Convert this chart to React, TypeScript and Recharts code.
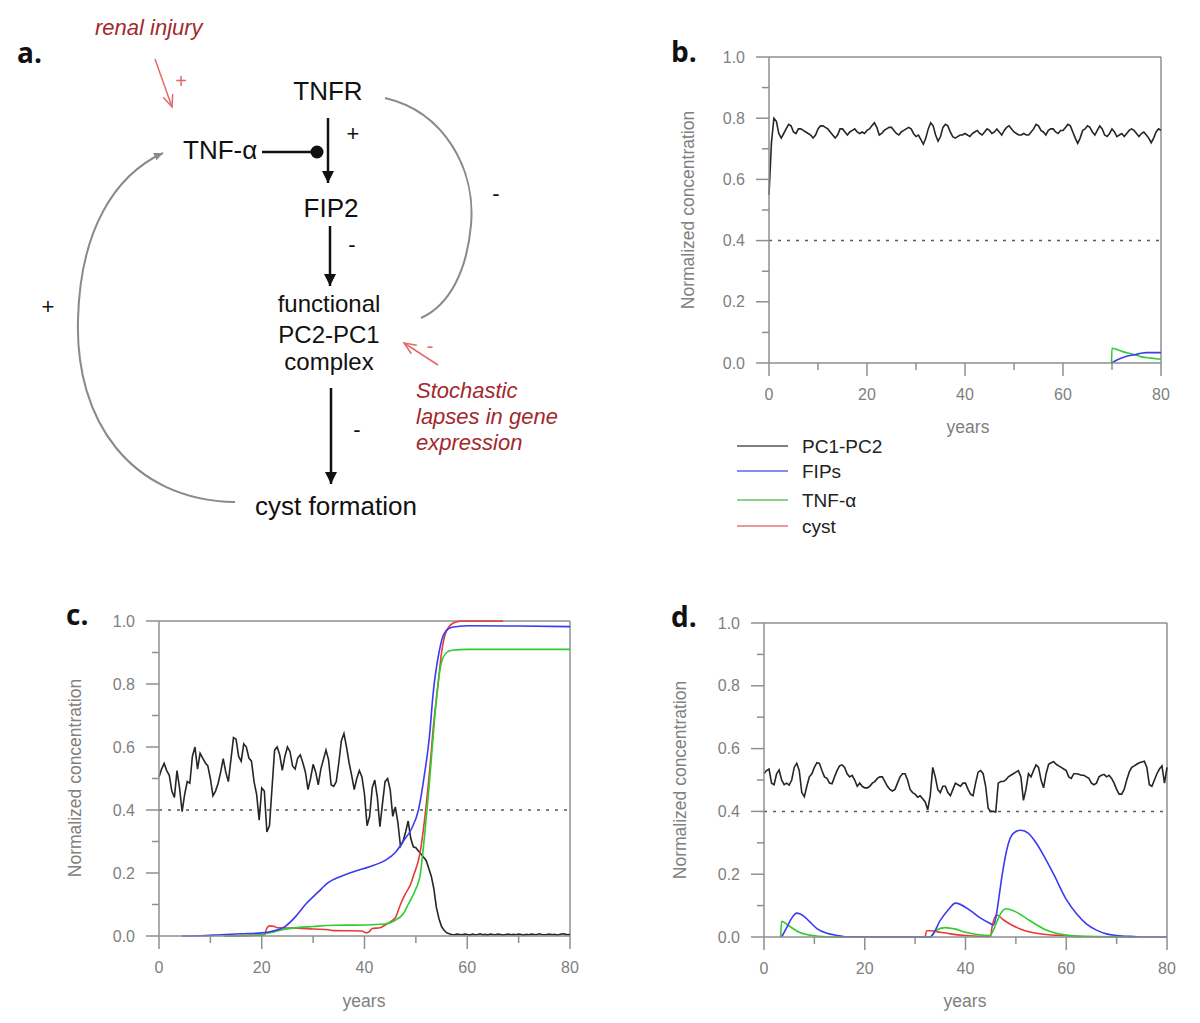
import React from 'react';
import { LineChart, Line, XAxis, YAxis, ReferenceLine } from 'recharts';

// x grid for the stochastic PC1-PC2 traces (every half year)
const halfYears = Array.from({ length: 161 }, (_, i) => i / 2);

const xTicks = [0, 10, 20, 30, 40, 50, 60, 70, 80];
const xLabels = [0, 20, 40, 60, 80];
const yTicks = [0, 0.1, 0.2, 0.3, 0.4, 0.5, 0.6, 0.7, 0.8, 0.9, 1];
const yLabels = [0, 0.2, 0.4, 0.6, 0.8, 1];
const threshold = 0.4;

const seriesNames = ['PC1-PC2', 'FIPs', 'TNF-α', 'cyst'];

// panel b
const bPc = [
  0.55, 0.72, 0.8, 0.79, 0.75, 0.735, 0.75, 0.765, 0.78, 0.775,
  0.755, 0.75, 0.765, 0.765, 0.76, 0.755, 0.75, 0.745, 0.735, 0.745,
  0.765, 0.775, 0.775, 0.77, 0.765, 0.755, 0.745, 0.735, 0.745, 0.765,
  0.765, 0.755, 0.745, 0.755, 0.76, 0.765, 0.755, 0.75, 0.755, 0.75,
  0.76, 0.765, 0.775, 0.785, 0.77, 0.745, 0.75, 0.76, 0.765, 0.77,
  0.77, 0.76, 0.75, 0.745, 0.755, 0.76, 0.765, 0.77, 0.765, 0.75,
  0.74, 0.745, 0.73, 0.715, 0.735, 0.765, 0.785, 0.775, 0.745, 0.725,
  0.74, 0.77, 0.78, 0.775, 0.755, 0.74, 0.735, 0.74, 0.745, 0.745,
  0.75, 0.745, 0.74, 0.75, 0.755, 0.76, 0.75, 0.745, 0.755, 0.765,
  0.76, 0.75, 0.755, 0.765, 0.755, 0.745, 0.76, 0.77, 0.775, 0.765,
  0.755, 0.75, 0.745, 0.745, 0.75, 0.745, 0.745, 0.755, 0.765, 0.78,
  0.775, 0.76, 0.755, 0.745, 0.76, 0.765, 0.765, 0.755, 0.75, 0.76,
  0.76, 0.77, 0.78, 0.775, 0.755, 0.735, 0.718, 0.735, 0.76, 0.765,
  0.775, 0.77, 0.755, 0.745, 0.76, 0.775, 0.765, 0.745, 0.74, 0.75,
  0.765, 0.755, 0.74, 0.745, 0.75, 0.74, 0.75, 0.76, 0.765, 0.76,
  0.75, 0.74, 0.75, 0.755, 0.745, 0.735, 0.72, 0.735, 0.755, 0.765,
  0.76,
];
const bFipYears = [69.9, 71, 73, 74.6, 76, 77, 80];
const bFipVals = [0, 0.01, 0.022, 0.027, 0.032, 0.034, 0.034];
const bTnfYears = [69.9, 70, 72, 74.6, 76, 78, 80];
const bTnfVals = [0, 0.048, 0.038, 0.027, 0.02, 0.016, 0.012];

// panel c
const cPc = [
  0.505, 0.53, 0.548, 0.525, 0.51, 0.46, 0.44, 0.525, 0.47, 0.395,
  0.45, 0.49, 0.485, 0.57, 0.6, 0.53, 0.58, 0.565, 0.55, 0.54,
  0.5, 0.445, 0.46, 0.484, 0.52, 0.563, 0.52, 0.49, 0.56, 0.63,
  0.625, 0.57, 0.555, 0.61, 0.6, 0.565, 0.555, 0.49, 0.45, 0.368,
  0.47, 0.46, 0.33, 0.35, 0.47, 0.59, 0.6, 0.575, 0.526, 0.57,
  0.6, 0.585, 0.54, 0.53, 0.565, 0.575, 0.55, 0.52, 0.465, 0.5,
  0.545, 0.52, 0.48, 0.53, 0.56, 0.59, 0.56, 0.48, 0.475, 0.49,
  0.55, 0.62, 0.643, 0.6, 0.55, 0.51, 0.465, 0.5, 0.525, 0.505,
  0.45, 0.35, 0.38, 0.47, 0.495, 0.44, 0.347, 0.42, 0.49, 0.5,
  0.465, 0.38, 0.41, 0.36, 0.285, 0.3, 0.33, 0.365, 0.31, 0.283,
  0.28, 0.27, 0.26, 0.25, 0.24, 0.215, 0.19, 0.15, 0.09, 0.055,
  0.03, 0.018, 0.01, 0.007, 0.005, 0.004, 0.006, 0.005, 0.004, 0.006,
  0.005, 0.003, 0.006, 0.004, 0.005, 0.007, 0.004, 0.005, 0.003, 0.006,
  0.005, 0.004, 0.006, 0.005, 0.003, 0.005, 0.006, 0.004, 0.005, 0.004,
  0.006, 0.005, 0.003, 0.005, 0.004, 0.006, 0.005, 0.004, 0.007, 0.005,
  0.004, 0.005, 0.006, 0.004, 0.005, 0.003, 0.005, 0.007, 0.006, 0.004,
  0.005,
];
const cFipYears = [4.5, 8, 12, 16, 20, 22, 24.5, 26.5, 28.5, 31, 33, 35.5, 38, 41, 44, 46, 47.5, 49.2, 50.5, 51.7, 52.7, 53.3, 54.5, 55.5, 57, 60, 70, 80];
const cFipVals = [0, 0.001, 0.004, 0.007, 0.01, 0.015, 0.03, 0.06, 0.1, 0.14, 0.17, 0.19, 0.205, 0.22, 0.24, 0.265, 0.3, 0.342, 0.4, 0.516, 0.643, 0.76, 0.9, 0.96, 0.98, 0.985, 0.984, 0.982];
const cTnfYears = [12.5, 18, 20, 22, 24, 26, 30, 34, 40, 44, 46, 47.5, 48.5, 50, 50.8, 51.7, 52.5, 53.2, 53.7, 54.3, 55, 56, 57, 60, 80];
const cTnfVals = [0, 0.002, 0.005, 0.012, 0.02, 0.025, 0.03, 0.034, 0.035, 0.038, 0.05, 0.07, 0.1, 0.15, 0.19, 0.32, 0.46, 0.6, 0.7, 0.8, 0.87, 0.9, 0.907, 0.91, 0.91];
const cCystYears = [13, 18, 20.5, 21, 21.5, 22.5, 23, 27, 30, 33, 34, 39.5, 40.3, 41, 41.5, 43, 44, 45, 46, 47, 48, 49, 49.5, 50.8, 51.7, 52.7, 53.5, 54.2, 55, 56, 57.5, 59, 67];
const cCystVals = [0, 0.002, 0.003, 0.025, 0.032, 0.03, 0.026, 0.025, 0.022, 0.02, 0.017, 0.016, 0.01, 0.015, 0.024, 0.026, 0.035, 0.045, 0.058, 0.1, 0.135, 0.165, 0.19, 0.262, 0.37, 0.53, 0.68, 0.78, 0.9, 0.97, 0.995, 1, 1];

// panel d
const dPc = [
  0.52, 0.53, 0.535, 0.49, 0.485, 0.52, 0.532, 0.5, 0.485, 0.49,
  0.484, 0.5, 0.54, 0.553, 0.53, 0.46, 0.447, 0.48, 0.51, 0.52,
  0.54, 0.555, 0.553, 0.53, 0.51, 0.505, 0.49, 0.488, 0.51, 0.53,
  0.545, 0.548, 0.54, 0.52, 0.51, 0.515, 0.5, 0.48, 0.49, 0.48,
  0.475, 0.475, 0.48, 0.49, 0.495, 0.505, 0.51, 0.51, 0.495, 0.48,
  0.47, 0.465, 0.47, 0.49, 0.51, 0.52, 0.52, 0.5, 0.47, 0.46,
  0.455, 0.445, 0.45, 0.44, 0.43, 0.405, 0.45, 0.54, 0.51, 0.47,
  0.46, 0.48, 0.48, 0.46, 0.45, 0.47, 0.49, 0.485, 0.48, 0.49,
  0.49, 0.47, 0.455, 0.45, 0.49, 0.525, 0.53, 0.52, 0.48, 0.41,
  0.4, 0.4, 0.398, 0.49, 0.495, 0.495, 0.5, 0.51, 0.515, 0.52,
  0.525, 0.53, 0.51, 0.435, 0.47, 0.52, 0.51, 0.53, 0.548, 0.54,
  0.5, 0.475, 0.52, 0.55, 0.555, 0.558, 0.55, 0.545, 0.54, 0.535,
  0.53, 0.51, 0.505, 0.52, 0.52, 0.518, 0.515, 0.515, 0.51, 0.505,
  0.49, 0.485, 0.49, 0.51, 0.515, 0.518, 0.51, 0.515, 0.505, 0.49,
  0.47, 0.455, 0.455, 0.47, 0.5, 0.525, 0.54, 0.545, 0.55, 0.555,
  0.557, 0.56, 0.54, 0.485, 0.48, 0.5, 0.52, 0.535, 0.545, 0.49,
  0.54,
];
const dFipYears = [3.5, 4.5, 5.5, 6.5, 8, 9, 10.5, 12.5, 14.5, 16, 33, 35, 36.5, 38, 40.9, 43, 45, 45.5, 46, 46.5, 47.2, 48.5, 49.5, 51, 52.5, 54, 55.5, 57.5, 60, 62, 64, 66, 68, 70, 74, 75, 80];
const dFipVals = [0, 0.03, 0.06, 0.076, 0.065, 0.05, 0.027, 0.012, 0.005, 0.001, 0, 0.053, 0.085, 0.108, 0.085, 0.06, 0.042, 0.038, 0.06, 0.11, 0.19, 0.297, 0.33, 0.34, 0.33, 0.3, 0.26, 0.2, 0.12, 0.075, 0.042, 0.022, 0.01, 0.005, 0.001, 0, 0];
const dTnfYears = [3.3, 3.5, 5, 7, 9, 11, 13, 33, 34, 36, 38, 40, 42, 44.8, 45.5, 46, 47, 48, 50, 52, 54, 56, 58, 60, 64, 74];
const dTnfVals = [0, 0.05, 0.035, 0.015, 0.006, 0.002, 0, 0, 0.02, 0.03, 0.025, 0.015, 0.009, 0.005, 0.02, 0.04, 0.075, 0.09, 0.08, 0.06, 0.04, 0.022, 0.012, 0.006, 0.002, 0];
const dCystYears = [32, 32.3, 33, 35, 37, 40, 45, 45.2, 46.2, 47.5, 49, 51, 53, 56, 60, 63];
const dCystVals = [0, 0.02, 0.02, 0.015, 0.01, 0.005, 0.002, 0.025, 0.07, 0.055, 0.04, 0.025, 0.015, 0.008, 0.004, 0];

const rows = (xs: number[], ys: number[]) => ys.map((y, i) => ({ x: xs[i], y }));

const PC_COLOR = '#262626';
const FIP_COLOR = '#3b3bf2';
const TNF_COLOR = '#2fcc2f';
const CYST_COLOR = '#e83a3a';
const AXIS = '#8f8f8f';
const LABEL = '#808080';
const FONT = '"Liberation Sans", Arial, sans-serif';

const XTick = (props: any) => {
  const { x, y, payload } = props;
  const major = xLabels.includes(payload.value);
  return (
    <g>
      <line x1={x} x2={x} y1={y} y2={y + (major ? 13 : 7)} stroke={AXIS} strokeWidth={1.5} />
      {major && (
        <text x={x} y={y + 31} textAnchor="middle" dominantBaseline="central" fill={LABEL} fontSize={16} fontFamily={FONT}>
          {payload.value}
        </text>
      )}
    </g>
  );
};

const YTick = (props: any) => {
  const { x, y, payload } = props;
  const major = yLabels.includes(payload.value);
  return (
    <g>
      <line x1={x - (major ? 13 : 7)} x2={x} y1={y} y2={y} stroke={AXIS} strokeWidth={1.5} />
      {major && (
        <text x={x - 24} y={y} textAnchor="end" dominantBaseline="central" fill={LABEL} fontSize={16} fontFamily={FONT}>
          {payload.value.toFixed(1)}
        </text>
      )}
    </g>
  );
};

type PanelProps = {
  width: number;
  height: number;
  margin: { top: number; right: number; bottom: number; left: number };
  yWidth: number;
  pc: { x: number; y: number }[];
  fip: { x: number; y: number }[];
  tnf: { x: number; y: number }[];
  cyst?: { x: number; y: number }[];
};

function Panel({ width, height, margin, yWidth, pc, fip, tnf, cyst }: PanelProps) {
  return (
    <LineChart width={width} height={height} margin={margin}>
      <XAxis
        type="number"
        dataKey="x"
        domain={[0, 80]}
        ticks={xTicks}
        interval={0}
        tick={XTick}
        tickLine={false}
        tickSize={0}
        tickMargin={0}
        height={50}
        axisLine={{ stroke: AXIS, strokeWidth: 1.5 }}
      />
      <YAxis
        type="number"
        domain={[0, 1]}
        ticks={yTicks}
        interval={0}
        tick={YTick}
        tickLine={false}
        tickSize={0}
        tickMargin={0}
        width={yWidth}
        axisLine={{ stroke: AXIS, strokeWidth: 1.5 }}
      />
      <ReferenceLine y={1} stroke={AXIS} strokeWidth={1.5} />
      <ReferenceLine x={80} stroke={AXIS} strokeWidth={1.5} />
      <ReferenceLine y={threshold} stroke="#5a5a5a" strokeWidth={1.5} strokeDasharray="3 6" />
      <Line data={pc} dataKey="y" name={seriesNames[0]} type="linear" stroke={PC_COLOR} strokeWidth={1.6} dot={false} isAnimationActive={false} />
      {cyst && (
        <Line data={cyst} dataKey="y" name={seriesNames[3]} type="monotone" stroke={CYST_COLOR} strokeWidth={1.6} dot={false} isAnimationActive={false} />
      )}
      <Line data={tnf} dataKey="y" name={seriesNames[2]} type="monotone" stroke={TNF_COLOR} strokeWidth={1.6} dot={false} isAnimationActive={false} />
      <Line data={fip} dataKey="y" name={seriesNames[1]} type="monotone" stroke={FIP_COLOR} strokeWidth={1.6} dot={false} isAnimationActive={false} />
    </LineChart>
  );
}

const legendColors = ['#808080', '#8a8af5', '#8fd08f', '#eb9a9a'];
const legendY = [446, 471, 500, 526];

const darkRed = '#a3282c';
const lightRed = '#e36a6a';

function Diagram() {
  const big = { fontFamily: FONT, fontSize: 26, fill: '#111' } as const;
  const mid = { fontFamily: FONT, fontSize: 24, fill: '#111' } as const;
  const sign = { fontFamily: FONT, fontSize: 22, fill: '#111' } as const;
  const note = { fontFamily: FONT, fontSize: 22, fill: darkRed, fontStyle: 'italic' } as const;
  return (
    <g>
      <defs>
        <marker id="blk" viewBox="0 0 12 12" refX="12" refY="6" markerWidth="12" markerHeight="12" markerUnits="userSpaceOnUse" orient="auto">
          <path d="M0,0 L12,6 L0,12 z" fill="#111" />
        </marker>
        <marker id="gry" viewBox="0 0 9 8" refX="9" refY="4" markerWidth="9" markerHeight="8" markerUnits="userSpaceOnUse" orient="auto">
          <path d="M0,0 L9,4 L0,8 z" fill="#8a8a8a" />
        </marker>
        <marker id="red" viewBox="-1 -1 14 12" refX="12" refY="5" markerWidth="14" markerHeight="12" markerUnits="userSpaceOnUse" orient="auto" overflow="visible">
          <path d="M0,0 L12,5 L0,10" fill="none" stroke={lightRed} strokeWidth={1.5} />
        </marker>
      </defs>
      <text x={17} y={63} fontFamily='"Open Sans", sans-serif' fontWeight={700} fontSize={28} fill="#111">a.</text>

      <text x={95} y={35} {...note}>renal injury</text>
      <line x1={155} y1={59} x2={172} y2={107} stroke={lightRed} strokeWidth={1.5} markerEnd="url(#red)" />
      <text x={181} y={88} textAnchor="middle" fontFamily={FONT} fontSize={20} fill={lightRed}>+</text>

      <text x={328} y={100} textAnchor="middle" {...big}>TNFR</text>
      <text x={183} y={159} {...big}>TNF-α</text>
      <line x1={262} y1={152} x2={312} y2={152} stroke="#111" strokeWidth={2.5} />
      <circle cx={317} cy={152} r={6.5} fill="#111" />
      <line x1={328} y1={118} x2={328} y2={183} stroke="#111" strokeWidth={2.5} markerEnd="url(#blk)" />
      <text x={353} y={141} textAnchor="middle" {...sign}>+</text>

      <text x={331} y={217} textAnchor="middle" {...big}>FIP2</text>
      <line x1={330} y1={226} x2={330} y2={286} stroke="#111" strokeWidth={2.5} markerEnd="url(#blk)" />
      <text x={352} y={252} textAnchor="middle" {...sign}>-</text>

      <text x={329} y={312} textAnchor="middle" {...mid}>functional</text>
      <text x={329} y={343} textAnchor="middle" {...mid}>PC2-PC1</text>
      <text x={329} y={370} textAnchor="middle" {...mid}>complex</text>
      <line x1={331} y1={388} x2={331} y2={484} stroke="#111" strokeWidth={2.5} markerEnd="url(#blk)" />
      <text x={357} y={437} textAnchor="middle" {...sign}>-</text>

      <text x={336} y={515} textAnchor="middle" {...big}>cyst formation</text>

      <path d="M235,502 C130,500 75,420 78,320 C80,230 115,175 163,153" fill="none" stroke="#8a8a8a" strokeWidth={2} markerEnd="url(#gry)" />
      <text x={48} y={314} textAnchor="middle" {...sign}>+</text>

      <path d="M385,98 C445,112 476,170 471,225 C467,270 450,305 421,318" fill="none" stroke="#8a8a8a" strokeWidth={2} />
      <text x={496} y={201} textAnchor="middle" {...sign}>-</text>

      <line x1={438} y1={365} x2={404} y2={343} stroke={lightRed} strokeWidth={1.5} markerEnd="url(#red)" />
      <text x={430} y={353} textAnchor="middle" fontFamily={FONT} fontSize={20} fill={lightRed}>-</text>
      <text x={416} y={398} {...note}>Stochastic</text>
      <text x={416} y={424} {...note}>lapses in gene</text>
      <text x={416} y={450} {...note}>expression</text>
    </g>
  );
}

function Overlay() {
  const letter = { fontFamily: '"Open Sans", sans-serif', fontWeight: 700, fontSize: 28, fill: '#111' } as const;
  const axisTitle = { fontFamily: FONT, fontSize: 17.5, fill: LABEL } as const;
  return (
    <svg width={1200} height={1023} style={{ position: 'absolute', left: 0, top: 0, pointerEvents: 'none' }}>
      <Diagram />
      <text x={671} y={62} {...letter}>b.</text>
      <text x={66} y={625} {...letter}>c.</text>
      <text x={671} y={627} {...letter}>d.</text>

      <text transform="translate(694,210) rotate(-90)" textAnchor="middle" {...axisTitle}>Normalized concentration</text>
      <text transform="translate(81,778) rotate(-90)" textAnchor="middle" {...axisTitle}>Normalized concentration</text>
      <text transform="translate(686,780) rotate(-90)" textAnchor="middle" {...axisTitle}>Normalized concentration</text>
      <text x={968} y={433} textAnchor="middle" {...axisTitle}>years</text>
      <text x={364} y={1007} textAnchor="middle" {...axisTitle}>years</text>
      <text x={965} y={1007} textAnchor="middle" {...axisTitle}>years</text>

      {seriesNames.map((name, i) => (
        <g key={name}>
          <line x1={737} x2={788} y1={legendY[i]} y2={legendY[i]} stroke={legendColors[i]} strokeWidth={2} />
          <text x={802} y={legendY[i]} dominantBaseline="central" fontFamily={FONT} fontSize={19} fill="#222">{name}</text>
        </g>
      ))}
    </svg>
  );
}

export default function App() {
  return (
    <div style={{ position: 'absolute', left: 0, top: 0, width: 1200, height: 1023, background: '#fff', overflow: 'hidden' }}>
      <div style={{ position: 'absolute', left: 660, top: 40, width: 510, height: 400, overflow: 'hidden' }}>
        <Panel
          width={530}
          height={400}
          margin={{ top: 17, right: 29, bottom: 27, left: 0 }}
          yWidth={109}
          pc={rows(halfYears, bPc)}
          fip={rows(bFipYears, bFipVals)}
          tnf={rows(bTnfYears, bTnfVals)}
        />
      </div>
      <div style={{ position: 'absolute', left: 60, top: 600, width: 540, height: 420 }}>
        <Panel
          width={540}
          height={420}
          margin={{ top: 21, right: 30, bottom: 34, left: 0 }}
          yWidth={99}
          pc={rows(halfYears, cPc)}
          fip={rows(cFipYears, cFipVals)}
          tnf={rows(cTnfYears, cTnfVals)}
          cyst={rows(cCystYears, cCystVals)}
        />
      </div>
      <div style={{ position: 'absolute', left: 660, top: 600, width: 540, height: 420 }}>
        <Panel
          width={540}
          height={420}
          margin={{ top: 23, right: 33, bottom: 33, left: 0 }}
          yWidth={104}
          pc={rows(halfYears, dPc)}
          fip={rows(dFipYears, dFipVals)}
          tnf={rows(dTnfYears, dTnfVals)}
          cyst={rows(dCystYears, dCystVals)}
        />
      </div>
      <Overlay />
    </div>
  );
}
